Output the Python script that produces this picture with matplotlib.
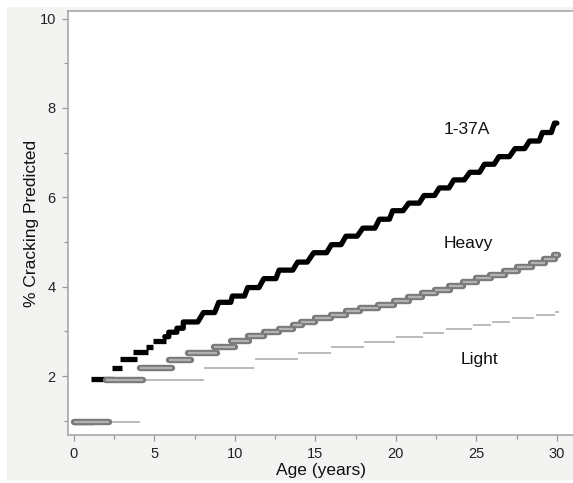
import numpy as np
import matplotlib.pyplot as plt
from matplotlib.patches import Rectangle

plt.rcParams['font.family'] = ['Liberation Sans', 'DejaVu Sans']

# 1-37A: early isolated dashes, then the connected wavy part
black_early_start = [0.0, 1.1, 2.4, 2.9, 3.7, 4.5, 4.9]
black_early_end = [1.2, 2.45, 3.0, 3.9, 4.6, 4.9, 5.7]
black_early_level = [0.96, 1.93, 2.19, 2.38, 2.53, 2.65, 2.78]

black_start = [5.65, 5.9, 6.4, 6.8, 8.05, 9.0, 9.85, 10.8, 11.8, 12.75,
               13.9, 14.9, 16.0, 16.9, 17.95, 18.98, 19.8, 20.8, 21.75, 22.7,
               23.6, 24.6, 25.5, 26.4, 27.4, 28.3, 29.1, 29.85]
black_end = [5.9, 6.4, 6.8, 7.7, 8.75, 9.75, 10.6, 11.5, 12.55, 13.6,
             14.5, 15.7, 16.6, 17.6, 18.7, 19.6, 20.45, 21.45, 22.4, 23.3,
             24.25, 25.2, 26.1, 27.05, 28.0, 28.9, 29.65, 30.0]
black_level = [2.88, 2.98, 3.07, 3.21, 3.42, 3.65, 3.79, 3.98, 4.18, 4.37,
               4.55, 4.76, 4.94, 5.13, 5.31, 5.51, 5.70, 5.87, 6.04, 6.21,
               6.39, 6.56, 6.74, 6.91, 7.09, 7.26, 7.45, 7.66]

# Heavy
heavy_start = [0.0, 2.0, 4.1, 5.9, 7.1, 8.7, 9.75, 10.8, 11.8, 12.75,
               13.6, 14.1, 15.0, 16.0, 16.9, 17.8, 18.9, 19.9, 20.75, 21.6,
               22.45, 23.3, 24.15, 25.0, 25.85, 26.7, 27.55, 28.4, 29.2, 29.85]
heavy_end = [2.2, 4.3, 6.1, 7.3, 8.9, 10.0, 10.9, 11.8, 12.75, 13.6,
             14.2, 15.0, 16.0, 16.9, 17.8, 18.9, 19.9, 20.8, 21.65, 22.5,
             23.35, 24.2, 25.05, 25.9, 26.75, 27.6, 28.45, 29.25, 29.9, 30.05]
heavy_level = [0.96, 1.91, 2.18, 2.36, 2.52, 2.65, 2.78, 2.89, 2.98, 3.06,
               3.14, 3.22, 3.29, 3.36, 3.46, 3.52, 3.60, 3.68, 3.76, 3.85,
               3.93, 4.02, 4.10, 4.19, 4.27, 4.36, 4.44, 4.53, 4.61, 4.70]

# Light
light_start = [0.0, 4.1, 8.1, 11.25, 13.9, 16.0, 18.05, 20.0, 21.7, 23.1,
               24.8, 25.97, 27.2, 28.7, 29.9]
light_end = [4.1, 8.1, 11.2, 13.9, 16.0, 18.0, 19.95, 21.7, 23.0, 24.7,
             25.9, 27.1, 28.6, 29.9, 30.1]
light_level = [0.96, 1.92, 2.18, 2.37, 2.51, 2.65, 2.76, 2.87, 2.97, 3.06,
               3.15, 3.22, 3.30, 3.36, 3.43]

labels = ['1-37A', 'Heavy', 'Light']
label_x = [24.4, 24.5, 25.2]
label_y = [7.51, 4.97, 2.36]

W, H = 573, 483
fig = plt.figure(figsize=(W / 100, H / 100), dpi=100)
fig.patch.set_facecolor('white')
# pale grey panel behind the plot
panel = Rectangle((7 / W, 3 / H), 1 - 7 / W, (480 - 7) / H,
                  transform=fig.transFigure, facecolor='#f3f3f1',
                  edgecolor='none', zorder=-10)
fig.add_artist(panel)

ax = fig.add_axes([68.3 / W, (H - 435) / H, 1 - 68.3 / W, (435 - 11) / H])
ax.set_zorder(1)
ax.set_facecolor('white')

ax.hlines(light_level, light_start, light_end, colors='#b5b5b5', lw=1.3, zorder=1)

ax.hlines(black_early_level, black_early_start, black_early_end,
          colors='black', lw=3.8, capstyle='butt', zorder=2)
bx = np.column_stack([black_start, black_end]).ravel()
by = np.repeat(black_level, 2)
ax.plot(bx, by, color='black', lw=3.8, solid_joinstyle='round',
        solid_capstyle='round', zorder=2)

ax.hlines(heavy_level, heavy_start, heavy_end, colors='#7a7a7a', lw=4.6,
          capstyle='round', zorder=3)
ax.hlines(heavy_level, heavy_start, heavy_end, colors='#b2b2b2', lw=1.6,
          capstyle='butt', zorder=4)

for t, x, y in zip(labels, label_x, label_y):
    ax.text(x, y, t, ha='center', va='center', fontsize=12.5, color='#111111')

ax.set_xlim(-0.34, 31.0)
ax.set_ylim(0.68, 10.17)
ax.set_xticks([0, 5, 10, 15, 20, 25, 30])
ax.set_xticks(np.arange(2.5, 30, 5), minor=True)
ax.set_yticks([2, 4, 6, 8, 10])
ax.set_yticks([1, 3, 5, 7, 9], minor=True)

for s in ax.spines.values():
    s.set_color('#a8a8a8')
    s.set_linewidth(1.2)
ax.spines['right'].set_visible(False)
ax.tick_params(which='both', direction='out', color='#999999', width=0.9,
               labelsize=10.5, labelcolor='#222222')
ax.tick_params(which='major', length=4, pad=5)
ax.tick_params(which='minor', length=3)

ax.set_xlabel('Age (years)', fontsize=12.5, color='#111111', labelpad=1)
ax.set_ylabel('% Cracking Predicted', fontsize=12.5, color='#111111', labelpad=0)

plt.savefig('out.png', dpi=100, facecolor=fig.get_facecolor())
